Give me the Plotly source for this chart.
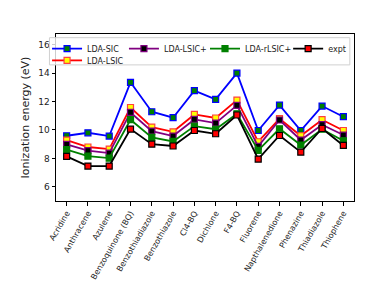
import plotly.graph_objects as go

molecules = ["Acridine", "Anthracene", "Azulene", "Benzoquinone (BQ)", "Benzothiadiazole",
             "Benzothiazole", "Cl4-BQ", "Dichlone", "F4-BQ", "Fluorene",
             "Napthalenedione", "Phenazine", "Thiadiazole", "Thiophene"]

lda_sic = [9.59, 9.80, 9.57, 13.35, 11.28, 10.86, 12.76, 12.15, 14.00, 9.96, 11.75, 9.96, 11.68, 10.93]
lda_lsic = [9.29, 8.80, 8.65, 11.58, 10.20, 9.87, 11.09, 10.84, 12.10, 9.17, 10.79, 9.59, 10.72, 9.96]
lda_lsic_plus = [8.98, 8.54, 8.37, 11.23, 9.92, 9.57, 10.74, 10.48, 11.73, 8.84, 10.70, 9.29, 10.37, 9.64]
lda_rlsic_plus = [8.61, 8.16, 8.02, 10.72, 9.47, 9.19, 10.27, 10.05, 11.14, 8.56, 10.08, 8.94, 10.05, 9.24]
expt = [8.14, 7.46, 7.46, 10.06, 9.00, 8.87, 9.96, 9.73, 11.05, 7.95, 9.61, 8.44, 10.10, 8.91]

# name, values, line colour, marker fill, marker edge, legend id
series = [
    ("LDA-SIC", lda_sic, "#0000ff", "#008000", "#0000ff", "legend"),
    ("LDA-LSIC", lda_lsic, "#ff0000", "#ffff00", "#ff4040", "legend2"),
    ("LDA-LSIC+", lda_lsic_plus, "#800080", "#000000", "#800080", "legend3"),
    ("LDA-rLSIC+", lda_rlsic_plus, "#008000", "#008000", "#008000", "legend4"),
    ("expt", expt, "#000000", "#ff0000", "#000000", "legend5"),
]

fig = go.Figure()
for name, vals, lc, fc, ec, leg in series:
    fig.add_trace(go.Scatter(
        x=list(range(len(molecules))), y=vals, name=name, mode="lines+markers",
        line=dict(color=lc, width=1.8),
        marker=dict(symbol="square", size=6, color=fc, line=dict(color=ec, width=1.2)),
        legend=leg,
    ))

def leg(x, y):
    return dict(x=x, y=y, xanchor="left", yanchor="middle", orientation="v",
                bgcolor="rgba(0,0,0,0)", borderwidth=0, font=dict(size=8),
                itemwidth=30)

fig.update_layout(
    width=376, height=280,
    margin=dict(l=48, r=30, t=26, b=87, autoexpand=False),
    paper_bgcolor="white", plot_bgcolor="white",
    font=dict(family="DejaVu Sans", size=9, color="#222222"),
    showlegend=True,
    legend=leg(-0.030, 0.912),
    legend2=leg(-0.030, 0.842),
    legend3=leg(0.228, 0.912),
    legend4=leg(0.500, 0.912),
    legend5=leg(0.779, 0.912),
    shapes=[dict(type="rect", xref="paper", yref="paper", x0=-0.022, x1=0.986, y0=0.815, y1=0.978,
                 line=dict(color="#d0d0d0", width=1), fillcolor="rgba(255,255,255,0.8)",
                 layer="above")],
    xaxis=dict(
        range=[-0.5, 13.5], tickmode="array", tickvals=list(range(len(molecules))),
        ticktext=molecules, tickangle=-60, tickfont=dict(size=8),
        showgrid=False, zeroline=False, showline=True, linecolor="black", linewidth=1,
        mirror=True, ticks="outside", ticklen=3.5, tickcolor="black",
    ),
    yaxis=dict(
        range=[5.0, 16.75], tickmode="array", tickvals=[6, 8, 10, 12, 14, 16],
        tickfont=dict(size=9),
        title=dict(text="Ionization energy (eV)", font=dict(size=11), standoff=6),
        showgrid=False, zeroline=False, showline=True, linecolor="black", linewidth=1,
        mirror=True, ticks="outside", ticklen=3.5, tickcolor="black",
    ),
)

fig.write_html("out.html")
